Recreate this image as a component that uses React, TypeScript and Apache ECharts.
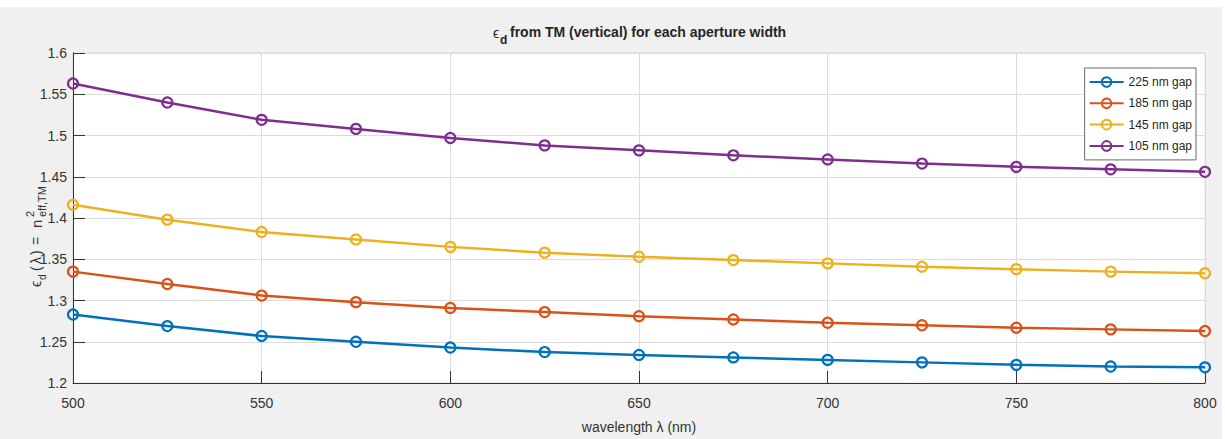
import React, { useEffect, useRef } from "react";
import * as echarts from "echarts";

const wavelengths = [500, 525, 550, 575, 600, 625, 650, 675, 700, 725, 750, 775, 800];
const gap225 = [1.283, 1.269, 1.257, 1.25, 1.243, 1.2375, 1.234, 1.231, 1.228, 1.225, 1.222, 1.22, 1.219];
const gap185 = [1.335, 1.32, 1.306, 1.298, 1.291, 1.286, 1.281, 1.277, 1.273, 1.27, 1.267, 1.265, 1.263];
const gap145 = [1.416, 1.398, 1.383, 1.374, 1.365, 1.358, 1.353, 1.349, 1.345, 1.341, 1.338, 1.335, 1.333];
const gap105 = [1.563, 1.54, 1.519, 1.508, 1.497, 1.488, 1.482, 1.476, 1.471, 1.466, 1.462, 1.459, 1.456];

const seriesNames = ["225 nm gap", "185 nm gap", "145 nm gap", "105 nm gap"];
const seriesValues = [gap225, gap185, gap145, gap105];
const seriesColors = ["#0072BD", "#D95319", "#EDB120", "#7E2F8E"];

const FONT = "'Liberation Sans', Arial, Helvetica, sans-serif";
const AXIS_COLOR = "#333333";

export default function App() {
  const ref = useRef<HTMLDivElement>(null);

  useEffect(() => {
    document.body.style.margin = "0";
    const chart = echarts.init(ref.current!, null, { renderer: "svg" });

    const series = seriesNames.map((name, i) => ({
      name,
      type: "line",
      data: wavelengths.map((w, j) => [w, seriesValues[i][j]]),
      symbol: "circle",
      symbolSize: 10,
      showSymbol: true,
      lineStyle: { color: seriesColors[i], width: 2.5 },
      itemStyle: { color: "rgba(255,255,255,0)", borderColor: seriesColors[i], borderWidth: 2.2 },
      emphasis: { disabled: true },
      z: 3 + i,
    }));

    const option = {
      animation: false,
      textStyle: { fontFamily: FONT },
      grid: {
        left: 73,
        right: 20,
        top: 53,
        bottom: 56,
        show: true,
        backgroundColor: "#ffffff",
        borderColor: "#dcdcdc",
        borderWidth: 1,
        containLabel: false,
      },
      legend: {
        orient: "vertical",
        right: 29,
        top: 68,
        itemWidth: 34,
        itemHeight: 12,
        itemGap: 9.3,
        padding: [8, 4, 8, 4],
        backgroundColor: "#ffffff",
        borderColor: "#6a6a6a",
        borderWidth: 1,
        borderRadius: 0,
        textStyle: { fontFamily: FONT, fontSize: 12, color: "#262626" },
        data: seriesNames,
      },
      xAxis: {
        type: "value",
        min: 500,
        max: 800,
        interval: 50,
        name: "wavelength λ (nm)",
        nameLocation: "middle",
        nameGap: 37,
        nameTextStyle: { fontFamily: FONT, fontSize: 14, color: AXIS_COLOR },
        axisLine: { show: true, lineStyle: { color: AXIS_COLOR, width: 1 } },
        axisTick: { show: true, inside: true, length: 12, lineStyle: { color: AXIS_COLOR } },
        axisLabel: { fontFamily: FONT, fontSize: 14, color: AXIS_COLOR, margin: 13 },
        splitLine: { show: true, lineStyle: { color: "#dcdcdc", width: 1 } },
      },
      yAxis: {
        type: "value",
        min: 1.2,
        max: 1.6,
        interval: 0.05,
        axisLine: { show: true, lineStyle: { color: AXIS_COLOR, width: 1 } },
        axisTick: { show: true, inside: true, length: 12, lineStyle: { color: AXIS_COLOR } },
        axisLabel: {
          fontFamily: FONT,
          fontSize: 14,
          color: AXIS_COLOR,
          margin: 6,
          formatter: (v: number) => String(+v.toFixed(2)),
        },
        splitLine: { show: true, lineStyle: { color: "#dcdcdc", width: 1 } },
      },
      graphic: [
        {
          type: "rect",
          z: -10,
          silent: true,
          shape: { x: 0, y: 7, width: 1222, height: 432 },
          style: { fill: "#f0f0f0" },
        },
        {
          type: "text",
          x: 493,
          y: 33,
          style: { text: "ϵ", font: `normal 14px ${FONT}`, fill: "#262626", textVerticalAlign: "middle" },
        },
        {
          type: "text",
          x: 500,
          y: 40,
          style: { text: "d", font: `bold 12px ${FONT}`, fill: "#262626", textVerticalAlign: "middle" },
        },
        {
          type: "text",
          x: 510,
          y: 32,
          style: {
            text: "from TM (vertical) for each aperture width",
            font: `bold 14px ${FONT}`,
            fill: "#262626",
            textVerticalAlign: "middle",
          },
        },
        {
          type: "group",
          x: 36,
          y: 287,
          rotation: Math.PI / 2,
          children: [
            { type: "text", x: 0, y: 0, style: { text: "ϵ", font: `14px ${FONT}`, fill: AXIS_COLOR, textVerticalAlign: "middle" } },
            { type: "text", x: 7, y: 6, style: { text: "d", font: `10px ${FONT}`, fill: AXIS_COLOR, textVerticalAlign: "middle" } },
            { type: "text", x: 16, y: 0, style: { text: "(", font: `14px ${FONT}`, fill: AXIS_COLOR, textVerticalAlign: "middle" } },
            { type: "text", x: 23, y: 0, style: { text: "λ", font: `14px ${FONT}`, fill: AXIS_COLOR, textVerticalAlign: "middle" } },
            { type: "text", x: 32, y: 0, style: { text: ")", font: `14px ${FONT}`, fill: AXIS_COLOR, textVerticalAlign: "middle" } },
            { type: "text", x: 42, y: 0, style: { text: "=", font: `14px ${FONT}`, fill: AXIS_COLOR, textVerticalAlign: "middle" } },
            { type: "text", x: 59, y: 0, style: { text: "n", font: `15px ${FONT}`, fill: AXIS_COLOR, textVerticalAlign: "middle" } },
            { type: "text", x: 70, y: -6, style: { text: "2", font: `11px ${FONT}`, fill: AXIS_COLOR, textVerticalAlign: "middle" } },
            { type: "text", x: 70, y: 6, style: { text: "eff,TM", font: `11px ${FONT}`, fill: AXIS_COLOR, textVerticalAlign: "middle" } },
          ],
        },
      ],
      series,
    };

    chart.setOption(option as any);
    return () => chart.dispose();
  }, []);

  return <div ref={ref} style={{ width: 1225, height: 439 }} />;
}
